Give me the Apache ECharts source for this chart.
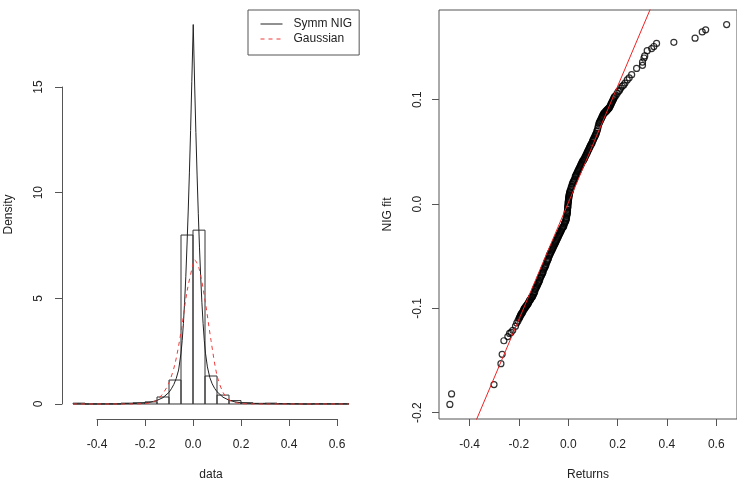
<!DOCTYPE html>
<html>
<head>
<meta charset="utf-8">
<script src="https://cdn.jsdelivr.net/npm/echarts@6/dist/echarts.min.js"></script>
<style>
html,body{margin:0;padding:0;background:#fff;}
#c{width:737px;height:488px;}
</style>
</head>
<body>
<div id="c"></div>
<script>
// ---- Left panel: histogram of returns with fitted densities ----
const histEdges = [-0.5,-0.45,-0.4,-0.35,-0.3,-0.25,-0.2,-0.15,-0.1,-0.05,0,0.05,0.1,0.15,0.2,0.25,0.3,0.35,0.4,0.45,0.5,0.55,0.6,0.65];
const histDensity = [0.04,0,0,0,0.04,0.06,0.1,0.33,1.13,7.97,8.2,1.32,0.42,0.16,0.06,0.03,0.04,0.02,0.01,0,0.01,0.01,0.01];

const nigX = [-0.5,-0.4,-0.3,-0.25,-0.2,-0.175,-0.15,-0.125,-0.1,-0.09,-0.08,-0.07,-0.06,-0.05,-0.045,-0.04,-0.035,-0.03,-0.025,-0.02,-0.015,-0.01,-0.005,0.001,0.007,0.012,0.017,0.022,0.027,0.032,0.037,0.042,0.047,0.052,0.06,0.07,0.08,0.09,0.1,0.125,0.15,0.175,0.2,0.25,0.3,0.4,0.5,0.65];
const nigY = [0.001,0.003,0.01,0.02,0.05,0.09,0.17,0.3,0.55,0.72,0.92,1.2,1.6,2.4,3.0,3.8,4.8,6.0,7.5,9.1,10.9,12.9,15.2,17.9,15.0,12.8,10.8,9.0,7.4,6.0,4.8,3.8,3.0,2.4,1.75,1.25,0.95,0.74,0.58,0.32,0.18,0.1,0.055,0.022,0.01,0.003,0.001,0.0];

const gaussX = [-0.5,-0.3,-0.25,-0.2,-0.175,-0.15,-0.125,-0.1,-0.075,-0.05,-0.025,0,0.006,0.025,0.05,0.075,0.1,0.125,0.15,0.175,0.2,0.25,0.3,0.65];
const gaussY = [0,0,0.002,0.02,0.07,0.19,0.5,1.0,1.9,3.4,5.3,6.6,6.8,6.4,4.9,3.0,1.35,0.55,0.2,0.07,0.02,0.002,0,0];

const leftXTicks = [-0.4,-0.2,0,0.2,0.4,0.6];
const leftYTicks = [0,5,10,15];

// ---- Right panel: QQ plot, sorted returns vs NIG fit quantiles ----
const returns = [
-0.480,-0.473,-0.301,-0.273,-0.268,-0.261,-0.245,-0.238,-0.232,-0.225,-0.214,-0.209,-0.204,
-0.200,-0.198,-0.196,-0.194,-0.192,-0.190,-0.188,-0.186,-0.184,-0.182,-0.180,
-0.178,-0.176,-0.174,-0.172,-0.170,-0.168,-0.166,-0.164,-0.162,-0.160,
-0.158,-0.156,-0.154,-0.152,-0.150,-0.148,-0.146,-0.144,-0.142,
-0.140,-0.138,-0.136,-0.134,-0.132,-0.130,-0.128,-0.126,-0.124,-0.122,
-0.120,-0.118,-0.116,-0.114,-0.112,-0.110,-0.108,-0.106,-0.104,-0.102,-0.100,
-0.098,-0.096,-0.094,-0.092,-0.090,-0.088,-0.086,-0.084,-0.082,-0.080,
-0.078,-0.076,-0.074,-0.072,-0.070,-0.068,-0.066,-0.064,-0.062,-0.060,
-0.058,-0.056,-0.054,-0.052,-0.050,-0.048,-0.046,-0.044,-0.042,-0.040,
-0.038,-0.036,-0.034,-0.032,-0.030,-0.028,-0.026,-0.024,-0.022,-0.020,
-0.018,-0.016,-0.014,-0.012,-0.010,-0.009,-0.008,-0.007,-0.006,-0.005,
-0.0045,-0.004,-0.0035,-0.003,-0.0025,-0.002,-0.0015,-0.001,-0.0005,0.000,
0.0005,0.001,0.0015,0.002,0.0025,0.003,0.004,0.005,0.006,0.007,0.008,
0.010,0.012,0.014,0.016,0.018,0.020,0.022,0.024,0.026,0.028,0.030,0.032,0.034,
0.036,0.038,0.040,0.042,0.044,0.046,0.048,0.050,0.052,0.054,
0.056,0.058,0.060,0.062,0.064,0.066,0.068,0.070,0.072,0.074,
0.076,0.078,0.080,0.082,0.084,0.086,0.088,0.090,0.092,0.094,
0.096,0.098,0.100,0.102,0.104,0.106,0.108,0.110,0.112,0.114,
0.116,0.118,0.120,0.122,0.124,
0.126,0.128,0.130,0.132,0.134,0.136,0.138,0.140,0.142,
0.144,0.146,0.148,0.150,0.152,0.154,0.156,0.158,0.160,0.162,0.164,0.166,0.168,
0.170,0.172,0.174,0.176,0.178,0.180,0.182,0.184,0.186,0.188,
0.193,0.198,0.203,0.208,0.212,0.219,0.225,0.230,0.239,0.247,0.257,0.277,0.301,0.301,0.307,0.310,0.320,0.338,0.347,0.358,0.428,0.514,0.543,0.557,0.642];
const nigFit = [
-0.192,-0.182,-0.173,-0.153,-0.144,-0.131,-0.127,-0.124,-0.123,-0.121,-0.117,-0.114,-0.112,
-0.110,-0.109,-0.108,-0.107,-0.106,-0.105,-0.105,-0.104,-0.103,-0.102,-0.101,
-0.100,-0.100,-0.099,-0.098,-0.098,-0.097,-0.096,-0.096,-0.095,-0.094,
-0.093,-0.092,-0.092,-0.091,-0.090,-0.089,-0.089,-0.088,-0.087,
-0.086,-0.085,-0.084,-0.082,-0.081,-0.080,-0.079,-0.078,-0.077,-0.076,
-0.075,-0.074,-0.073,-0.071,-0.070,-0.069,-0.068,-0.067,-0.066,-0.065,-0.063,
-0.062,-0.061,-0.060,-0.059,-0.058,-0.056,-0.055,-0.054,-0.053,-0.052,
-0.050,-0.049,-0.048,-0.047,-0.046,-0.045,-0.044,-0.043,-0.042,-0.041,
-0.040,-0.039,-0.038,-0.037,-0.036,-0.035,-0.034,-0.033,-0.032,-0.031,
-0.030,-0.029,-0.028,-0.027,-0.026,-0.025,-0.024,-0.023,-0.022,-0.022,
-0.021,-0.019,-0.018,-0.017,-0.016,-0.015,-0.014,-0.013,-0.011,-0.010,
-0.009,-0.008,-0.007,-0.006,-0.004,-0.003,-0.002,-0.0005,0.001,0.002,
0.003,0.004,0.005,0.006,0.007,0.008,0.009,0.010,0.011,0.012,0.013,
0.014,0.016,0.017,0.019,0.020,0.021,0.022,0.023,0.024,0.026,0.027,0.028,0.029,
0.030,0.031,0.032,0.033,0.034,0.035,0.036,0.037,0.038,0.039,
0.040,0.041,0.042,0.042,0.043,0.044,0.045,0.046,0.047,0.048,
0.049,0.050,0.051,0.052,0.053,0.054,0.055,0.056,0.057,0.058,
0.058,0.060,0.061,0.062,0.063,0.064,0.065,0.066,0.067,0.068,
0.070,0.071,0.073,0.075,0.077,
0.078,0.079,0.080,0.081,0.082,0.083,0.084,0.085,0.086,
0.087,0.087,0.088,0.088,0.089,0.089,0.090,0.090,0.091,0.091,0.092,0.092,0.093,
0.094,0.095,0.096,0.097,0.098,0.099,0.100,0.101,0.102,0.103,
0.104,0.106,0.108,0.109,0.111,0.113,0.114,0.116,0.119,0.121,0.124,0.130,0.133,0.136,0.140,0.142,0.147,0.149,0.151,0.154,0.155,0.159,0.165,0.167,0.172];
const qqLineX = [-0.38, 0.34];
const qqLineY = [-0.211, 0.191];

const rightXTicks = [-0.4,-0.2,0,0.2,0.4,0.6];
const rightYTicks = [-0.2,-0.1,0,0.1];

// ---- build ----
const FONT = '"Liberation Sans", Arial, Helvetica, sans-serif';
const AX = '#555';
const TXT = '#222';

const histData = histDensity.map((d,i)=>[histEdges[i], histEdges[i+1], d]);
const zip = (a,b)=>a.map((v,i)=>[v,b[i]]);

const chart = echarts.init(document.getElementById('c'), null, {renderer:'canvas'});
const labelStyle = {color:TXT, fontSize:12, fontFamily:FONT};

chart.setOption({
  animation:false,
  backgroundColor:'#fff',
  textStyle:{fontFamily:FONT},
  grid:[
    {left:62, top:10, width:298, height:409},   // 0: left data
    {left:97, top:10, width:240, height:409},   // 1: left x axis decoration
    {left:62, top:87, width:298, height:317},   // 2: left y axis decoration
    {left:439, top:10, width:298, height:409, show:true, borderColor:AX, borderWidth:1, backgroundColor:'transparent'} // 3: right
  ],
  xAxis:[
    {gridIndex:0, type:'value', min:-0.546, max:0.696, show:true,
     axisLine:{show:false, onZero:false}, axisTick:{show:false}, axisLabel:{show:false}, splitLine:{show:false},
     name:'data', nameLocation:'middle', nameGap:50, nameTextStyle:labelStyle},
    {gridIndex:1, type:'value', min:leftXTicks[0], max:leftXTicks[leftXTicks.length-1], interval:0.2,
     axisLine:{show:true, onZero:false, lineStyle:{color:AX,width:1}},
     axisTick:{show:true, inside:false, length:7, lineStyle:{color:AX}},
     axisLabel:Object.assign({margin:20, formatter:v=>v.toFixed(1)}, labelStyle),
     splitLine:{show:false}},
    {gridIndex:2, type:'value', min:0, max:1, show:false},
    {gridIndex:3, type:'value', min:-0.524, max:0.684,
     axisLine:{show:false, onZero:false},
     axisTick:{show:true, length:7, lineStyle:{color:AX}, customValues:rightXTicks},
     axisLabel:Object.assign({margin:20, formatter:v=>v.toFixed(1), customValues:rightXTicks}, labelStyle),
     splitLine:{show:false},
     name:'Returns', nameLocation:'middle', nameGap:50, nameTextStyle:labelStyle}
  ],
  yAxis:[
    {gridIndex:0, type:'value', min:-0.708, max:18.585, show:true,
     axisLine:{show:false, onZero:false}, axisTick:{show:false}, axisLabel:{show:false}, splitLine:{show:false},
     name:'Density', nameLocation:'middle', nameGap:47, nameRotate:90, nameTextStyle:labelStyle},
    {gridIndex:1, type:'value', min:0, max:1, show:false},
    {gridIndex:2, type:'value', min:leftYTicks[0], max:leftYTicks[leftYTicks.length-1], interval:5,
     axisLine:{show:true, onZero:false, lineStyle:{color:AX,width:1}},
     axisTick:{show:true, length:7, lineStyle:{color:AX}},
     axisLabel:Object.assign({margin:17, rotate:90, formatter:v=>String(v)}, labelStyle),
     splitLine:{show:false}},
    {gridIndex:3, type:'value', min:-0.206, max:0.186,
     axisLine:{show:false, onZero:false},
     axisTick:{show:true, length:7, lineStyle:{color:AX}, customValues:rightYTicks},
     axisLabel:Object.assign({margin:15, rotate:90, formatter:v=>v.toFixed(1), customValues:rightYTicks}, labelStyle),
     splitLine:{show:false},
     name:'NIG fit', nameLocation:'middle', nameGap:45, nameRotate:90, nameTextStyle:labelStyle}
  ],
  legend:{
    left:248, top:10, orient:'vertical',
    data:['Symm NIG','Gaussian'],
    borderColor:AX, borderWidth:1, backgroundColor:'#fff',
    padding:[8,7,10,12], itemGap:3, itemWidth:22, itemHeight:12,
    itemStyle:{opacity:0},
    lineStyle:{width:1},
    textStyle:Object.assign({padding:[0,0,0,6]}, labelStyle)
  },
  series:[
    {type:'custom', xAxisIndex:0, yAxisIndex:0, silent:true,
     data:histData,
     renderItem:function(params, api){
       const p0 = api.coord([api.value(0), 0]);
       const p1 = api.coord([api.value(1), api.value(2)]);
       return {type:'rect', shape:{x:p0[0], y:p1[1], width:p1[0]-p0[0], height:p0[1]-p1[1]},
               style:{fill:'none', stroke:'#333', lineWidth:1}};
     }},
    {type:'line', name:'Symm NIG', xAxisIndex:0, yAxisIndex:0, data:zip(nigX,nigY),
     symbol:'none', smooth:false, lineStyle:{color:'#222', width:1}, itemStyle:{color:'#222'}},
    {type:'line', name:'Gaussian', xAxisIndex:0, yAxisIndex:0, data:zip(gaussX,gaussY),
     symbol:'none', smooth:0.3, lineStyle:{color:'#ee3a3a', width:1, type:[4,4]}, itemStyle:{color:'#ee3a3a'}},
    {type:'scatter', xAxisIndex:3, yAxisIndex:3, data:zip(returns,nigFit),
     symbol:'circle', symbolSize:6, clip:true,
     itemStyle:{color:'rgba(0,0,0,0)', borderColor:'#000', borderWidth:1.2}},
    {type:'line', xAxisIndex:3, yAxisIndex:3, data:zip(qqLineX,qqLineY), clip:true,
     symbol:'none', lineStyle:{color:'#ee2222', width:1}}
  ]
});
</script>
</body>
</html>
